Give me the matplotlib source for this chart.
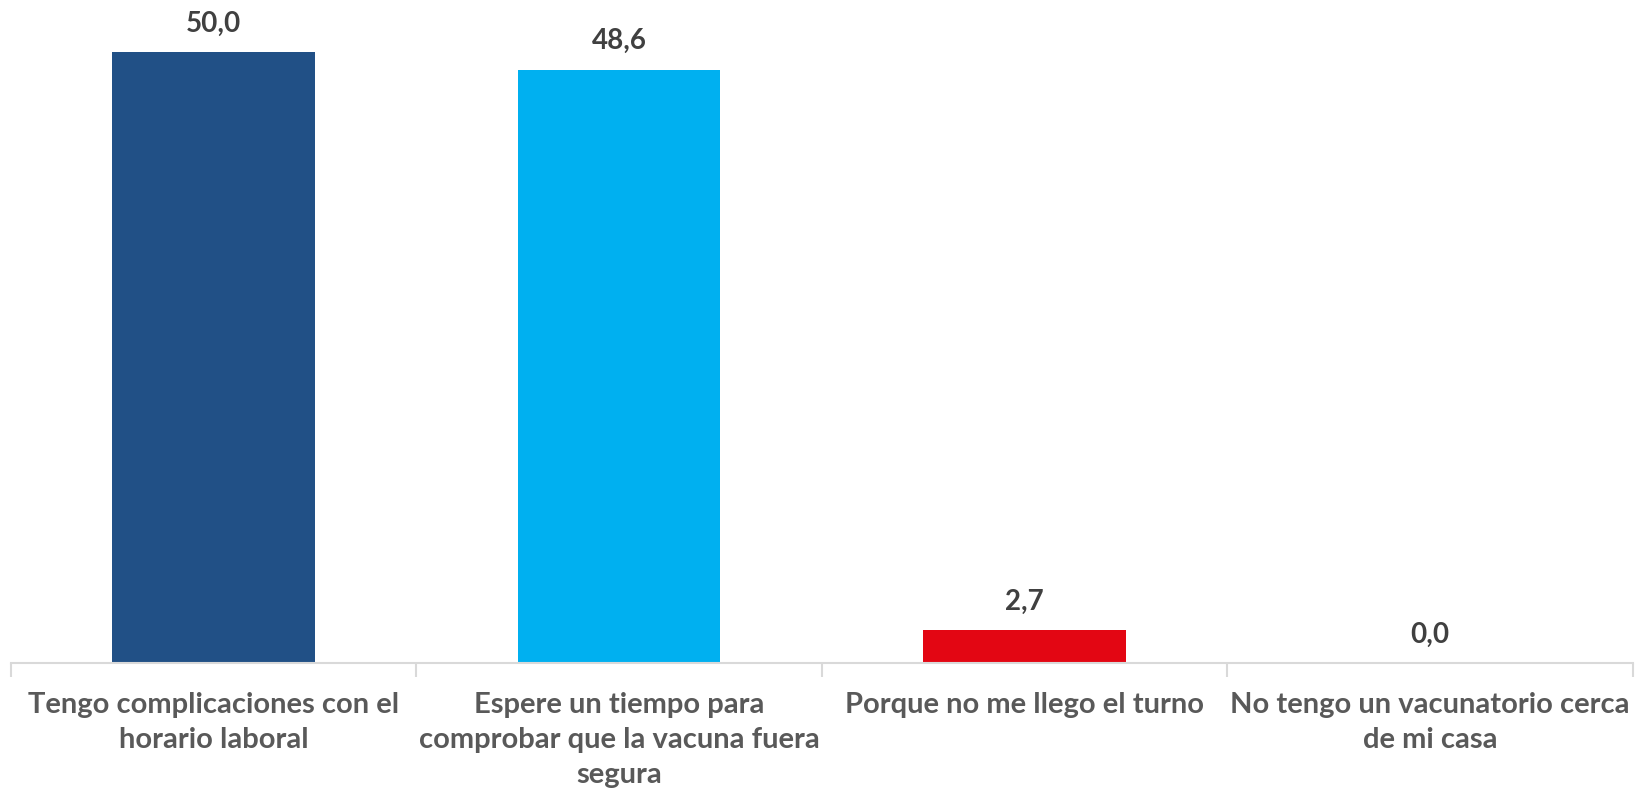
import matplotlib.pyplot as plt

categories = ["Tengo complicaciones con el\nhorario laboral",
              "Espere un tiempo para\ncomprobar que la vacuna fuera\nsegura",
              "Porque no me llego el turno",
              "No tengo un vacunatorio cerca\nde mi casa"]
values = [50.0, 48.6, 2.7, 0.0]
colors = ["#215086", "#00B0F0", "#E30613", "#7F7F7F"]

plt.rcParams['font.family'] = ['Lato', 'DejaVu Sans']

fig = plt.figure(figsize=(16.37, 7.92), dpi=100)
ax = fig.add_axes([0.0067, 0.163, 0.9906, 0.837])

x = list(range(len(values)))
bars = ax.bar(x, values, width=0.5, color=colors)

for xi, v in zip(x, values):
    ax.annotate(f"{v:.1f}".replace(".", ","), (xi, v), xytext=(0, 11),
                textcoords="offset points", ha="center", va="bottom",
                fontsize=20, fontweight="bold", color="#404040")

ax.set_xlim(-0.5, len(values) - 0.5)
ax.set_ylim(0, 54.3)
ax.set_xticks(x)
ax.set_xticklabels(categories, fontsize=21, fontweight="bold", color="#595959",
                   linespacing=1.42)
ax.tick_params(axis="x", length=0, pad=21)
ax.set_xticks([-0.5, 0.5, 1.5, 2.5, 3.5], minor=True)
ax.tick_params(axis="x", which="minor", length=10, color="#D9D9D9", width=1.5)
ax.set_yticks([])
for s in ["top", "right", "left"]:
    ax.spines[s].set_visible(False)
ax.spines["bottom"].set_color("#D9D9D9")
ax.spines["bottom"].set_linewidth(1.5)

plt.savefig("out.png", dpi=100)
